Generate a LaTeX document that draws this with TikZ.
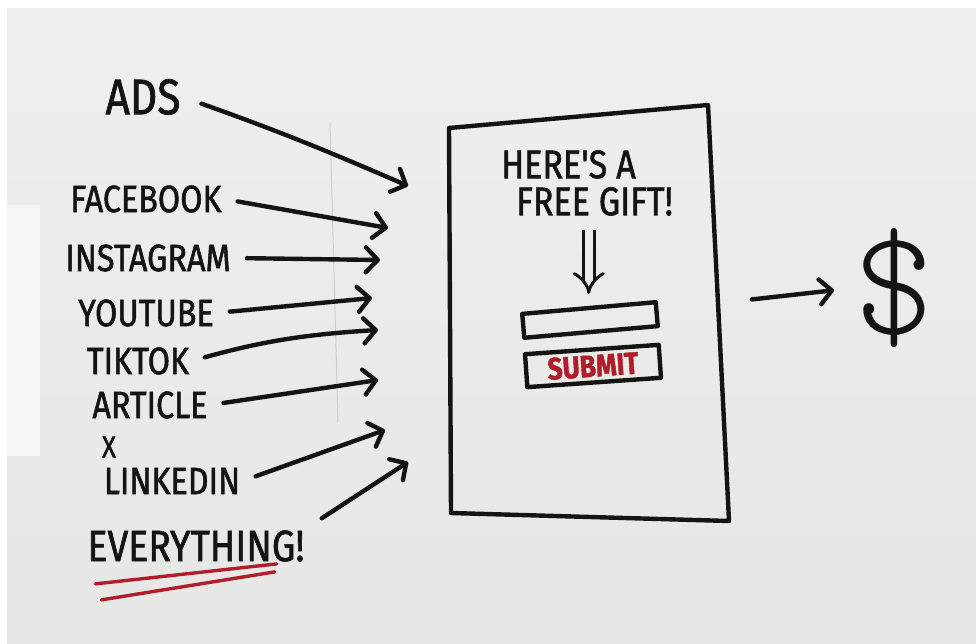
\documentclass[tikz,border=0pt]{standalone}
\usepackage{fontspec}
\newfontfamily\handFont[FakeStretch=0.85, FakeBold=1.4]{Fira Sans}
\usepackage{xcolor}
\definecolor{paperTop}{HTML}{EFEFED}
\definecolor{paperBottom}{HTML}{E6E6E4}
\definecolor{paperMid}{HTML}{EBEBE9}
\definecolor{paperLight}{HTML}{F5F5F4}
\definecolor{inkBlack}{HTML}{141414}
\definecolor{markerRed}{HTML}{B01E2C}
\definecolor{pencilGrey}{HTML}{CDCDCB}
\usetikzlibrary{arrows.meta, calc}
\tikzset{
  srcText/.style={font=\handFont\fontsize{#1}{#1}\selectfont, text=inkBlack, inner sep=2pt},
  srcText/.default=38,
  inkLine/.style={draw=inkBlack, line width=4.4pt, line cap=round, line join=round},
  inkArrow/.style={inkLine, -{Straight Barb[length=12pt, width=25pt, round]}},
  srcArrow/.style={inkArrow, shorten <=14pt},
  formBox/.style={inkLine, rectangle, inner sep=0pt, minimum width=134pt},
  redMarker/.style={draw=markerRed, line width=3.4pt, line cap=round},
}

\begin{document}
\begin{tikzpicture}[x=1pt, y=-1pt]
  \useasboundingbox (0,0) rectangle (976,644);
  % paper
  \shade[top color=paperTop, bottom color=paperBottom] (0,0) rectangle (976,644);
  \fill[white] (0,0) rectangle (976,8);
  \fill[white] (0,0) rectangle (7,644);
  \fill[paperLight] (7,205) rectangle (40,456);
  \draw[pencilGrey, line width=1pt] (330,123) -- (338,422);

  % traffic sources
  \node[srcText=50] (ads) at (143,97) {ADS};
  \node[srcText] (facebook) at (146,199) {FACEBOOK};
  \node[srcText] (instagram) at (148,258) {INSTAGRAM};
  \node[srcText] (youtube) at (146,313) {YOUTUBE};
  \node[srcText] (tiktok) at (138,361) {TIKTOK};
  \node[srcText] (article) at (150,405) {ARTICLE};
  \node[srcText=30] (xsite) at (109,447) {X};
  \node[srcText] (linkedin) at (172,481) {LINKEDIN};
  \node[srcText=44] (everything) at (196,546) {EVERYTHING!};
  \draw[redMarker] ($(everything.south west)+(10,20)$) -- ($(everything.south east)+(-30,0)$);
  \draw[redMarker] ($(everything.south west)+(16,36)$) -- ($(everything.south east)+(-32,8)$);

  \coordinate (inAds) at (408,186);
  \coordinate (inFacebook) at (388,228);
  \coordinate (inInstagram) at (380,260);
  \coordinate (inYoutube) at (372,298);
  \coordinate (inTiktok) at (378,330);
  \coordinate (inArticle) at (378,380);
  \coordinate (inLinkedin) at (385,430);
  \coordinate (inEverything) at (408,462);

  \draw[srcArrow, shorten <=20pt] (ads.east) to[bend left=2] (inAds);
  \draw[srcArrow] (facebook.east) -- (inFacebook);
  \draw[srcArrow] (instagram.east) -- (inInstagram);
  \draw[srcArrow] (youtube.east) -- (inYoutube);
  \draw[srcArrow] (tiktok.east) to[bend left=6] (inTiktok);
  \draw[srcArrow] (article.east) -- (inArticle);
  \draw[srcArrow] (linkedin.east) -- (inLinkedin);
  \draw[srcArrow, shorten <=18pt] (everything.north east) -- (inEverything);

  % landing page
  \coordinate (pageNW) at (449,128);
  \coordinate (pageNE) at (708,105);
  \coordinate (pageSE) at (729,521);
  \coordinate (pageSW) at (451,513);
  \coordinate (pageE) at (720,303);
  \draw[inkLine] (pageNW) -- (pageNE) -- (pageSE) -- (pageSW) -- cycle;

  \node[font=\handFont\fontsize{40}{37}\selectfont, text=inkBlack, anchor=north west,
        align=left, inner sep=0pt] (gift) at (501,150) {HERE'S A\\\hspace*{15pt}FREE GIFT!};
  \node[formBox, minimum height=24pt, rotate=5] (inputBox) at (590,320) {};
  \node[formBox, minimum height=33pt, rotate=4, text=markerRed,
        font=\handFont\bfseries\fontsize{31}{31}\selectfont] (submitBox) at (593,366) {SUBMIT};
  \draw[draw=inkBlack, line width=3pt, double=paperMid, double distance=8pt, -{Implies},
        shorten <=14pt, shorten >=12pt] (gift.south -| inputBox.north) -- (inputBox.north);

  % payoff
  \node[font=\fontfamily{lmtt}\fontseries{l}\fontsize{152}{152}\selectfont, text=inkBlack,
        inner sep=0pt] (dollar) at (894,288) {\$};
  \draw[inkArrow, shorten <=32pt, shorten >=20pt] (pageE) -- (dollar.west);
\end{tikzpicture}
\end{document}
